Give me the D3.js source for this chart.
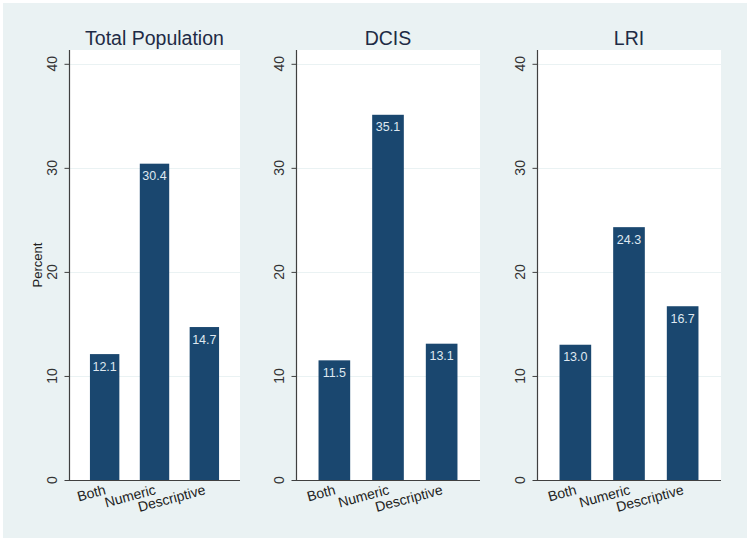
<!DOCTYPE html>
<html>
<head>
<meta charset="utf-8">
<script src="https://cdn.jsdelivr.net/npm/d3@7"></script>
<style>
  html, body { margin: 0; padding: 0; background: #ffffff; }
  svg { display: block; font-family: "Liberation Sans", Arial, sans-serif; }
</style>
</head>
<body>
<svg id="chart" width="750" height="542"></svg>
<script>
// ---- data ----
const categories = ["Both", "Numeric", "Descriptive"];
const panelTitles = ["Total Population", "DCIS", "LRI"];
const totalValues = [12.1, 30.4, 14.7];
const dcisValues = [11.5, 35.1, 13.1];
const lriValues = [13.0, 24.3, 16.7];
const yTicks = [0, 10, 20, 30, 40];
const yTitle = "Percent";

const seriesList = [totalValues, dcisValues, lriValues];

// ---- layout ----
const svg = d3.select("#chart");
const W = 750, H = 542;
const barColor = "#1a476f";
const bgColor = "#eaf2f3";

svg.append("rect").attr("x", 3).attr("y", 3).attr("width", W - 6).attr("height", H - 7)
  .attr("fill", bgColor);

const panels = [
  { x0: 69, x1: 240 },
  { x0: 296, x1: 480 },
  { x0: 537, x1: 721 }
];
const plotTop = 50, plotBottom = 480;

const y = d3.scaleLinear().domain([0, 40]).range([plotBottom, 63.8]);

panels.forEach((p, i) => {
  const values = seriesList[i];
  const g = svg.append("g");

  // plot region
  g.append("rect").attr("x", p.x0).attr("y", plotTop)
    .attr("width", p.x1 - p.x0).attr("height", plotBottom - plotTop)
    .attr("fill", "#ffffff");

  // gridlines
  g.selectAll(".grid").data(yTicks.filter(t => t > 0)).enter().append("line")
    .attr("x1", p.x0).attr("x2", p.x1)
    .attr("y1", d => Math.round(y(d)) + 0.5).attr("y2", d => Math.round(y(d)) + 0.5)
    .attr("stroke", "#eaf2f3").attr("stroke-width", 1);

  const x = d3.scaleBand().domain(categories).range([p.x0, p.x1])
    .paddingInner(0.41).paddingOuter(0.42);

  // bars
  g.selectAll(".bar").data(values).enter().append("rect")
    .attr("x", (d, j) => x(categories[j]))
    .attr("width", x.bandwidth())
    .attr("y", d => y(d))
    .attr("height", d => plotBottom - y(d))
    .attr("fill", barColor);

  // value labels
  g.selectAll(".val").data(values).enter().append("text")
    .attr("x", (d, j) => x(categories[j]) + x.bandwidth() / 2)
    .attr("y", d => y(d) + 16.5)
    .attr("text-anchor", "middle")
    .attr("font-size", 12.5)
    .attr("fill", "#dfe8f0")
    .text(d => d.toFixed(1));

  // y axis
  const yAxis = d3.axisLeft(y).tickValues(yTicks).tickSize(5).tickFormat("");
  const ax = g.append("g").attr("transform", `translate(${p.x0 + 0.5},0)`).call(yAxis);
  ax.select(".domain").remove();
  ax.selectAll(".tick line").attr("stroke", "#404040");
  g.append("line").attr("x1", p.x0 + 0.5).attr("x2", p.x0 + 0.5)
    .attr("y1", plotTop).attr("y2", plotBottom + 0.5)
    .attr("stroke", "#404040").attr("stroke-width", 1.2);

  // y tick labels (rotated)
  g.selectAll(".ylab").data(yTicks).enter().append("text")
    .attr("transform", d => `translate(${p.x0 - 12},${y(d)}) rotate(-90)`)
    .attr("text-anchor", "middle")
    .attr("font-size", 14)
    .attr("fill", "#333333")
    .text(d => d);

  // x axis line
  g.append("line").attr("x1", p.x0).attr("x2", p.x1)
    .attr("y1", plotBottom + 0.5).attr("y2", plotBottom + 0.5)
    .attr("stroke", "#404040").attr("stroke-width", 1.2);

  // x labels (angled)
  g.selectAll(".xlab").data(categories).enter().append("text")
    .attr("transform", d => `translate(${x(d) + x.bandwidth() / 2 + 2},${plotBottom + 14}) rotate(-15)`)
    .attr("text-anchor", "end")
    .attr("font-size", 14)
    .attr("fill", "#222222")
    .text(d => d);

  // title
  g.append("text")
    .attr("x", (p.x0 + p.x1) / 2).attr("y", 45)
    .attr("text-anchor", "middle")
    .attr("font-size", 19.5)
    .attr("fill", "#1e2b45")
    .text(panelTitles[i]);
});

// y axis title
svg.append("text")
  .attr("transform", `translate(42,${(plotTop + plotBottom) / 2}) rotate(-90)`)
  .attr("text-anchor", "middle")
  .attr("font-size", 13)
  .attr("fill", "#222222")
  .text(yTitle);
</script>
</body>
</html>
